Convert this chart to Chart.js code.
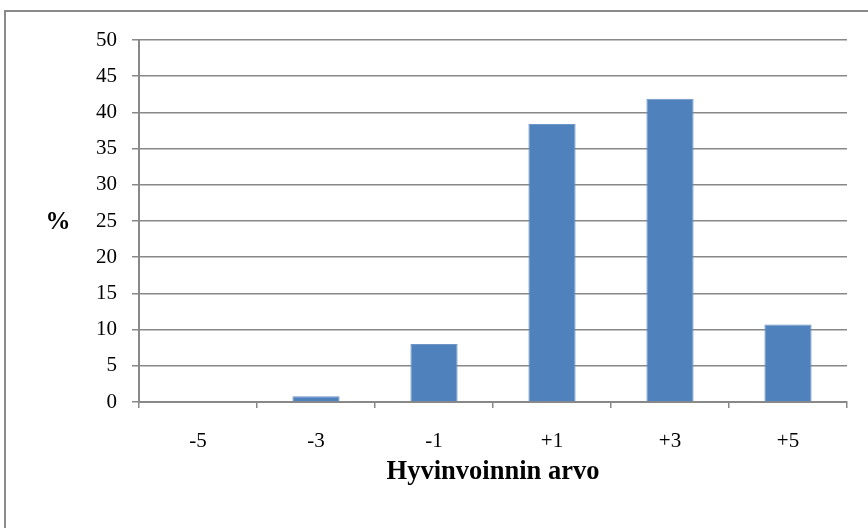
<!DOCTYPE html>
<html>
<head>
<meta charset="utf-8">
<script src="https://cdn.jsdelivr.net/npm/chart.js@4/dist/chart.umd.min.js"></script>
<style>
    html, body { margin: 0; padding: 0; background: #fff; overflow: hidden; }
    #wrap { position: relative; width: 868px; height: 528px; }
    #frame { position: absolute; left: 4px; top: 10px; width: 900px; height: 600px; border: 2px solid #8a8a8a; box-sizing: border-box; }
    canvas { position: absolute; left: 0; top: 0; }
</style>
</head>
<body>
<div id="wrap">
    <div id="frame"></div>
    <canvas id="arvoChart" width="868" height="528"></canvas>
</div>
<script>
const categories = ['-5', '-3', '-1', '+1', '+3', '+5'];
const percentages = [0, 0.8, 8.0, 38.4, 41.9, 10.7];
const yTicks = [0, 5, 10, 15, 20, 25, 30, 35, 40, 45, 50];

const xTitle = 'Hyvinvoinnin arvo';
const yTitle = '%';

const serif = '"Liberation Serif", "Times New Roman", serif';
const gridColor = '#888888';

// horizontal "%" label left of the value axis
const yTitlePlugin = {
    id: 'yTitle',
    afterDraw(chart) {
        const ctx = chart.ctx;
        ctx.save();
        ctx.font = 'bold 25px ' + serif;
        ctx.fillStyle = '#000';
        ctx.textAlign = 'center';
        ctx.textBaseline = 'middle';
        ctx.fillText(yTitle, 58, 223);
        ctx.restore();
    }
};

const ctx = document.getElementById('arvoChart').getContext('2d');

new Chart(ctx, {
    type: 'bar',
    data: {
        labels: categories,
        datasets: [{
            data: percentages,
            backgroundColor: '#4F81BD',
            borderColor: '#6f96c8',
            borderWidth: 1,
            categoryPercentage: 1,
            barPercentage: 0.4
        }]
    },
    options: {
        responsive: false,
        animation: false,
        layout: {
            padding: { left: 0, top: 40, right: 21, bottom: 0 }
        },
        plugins: {
            legend: { display: false },
            tooltip: { enabled: false }
        },
        scales: {
            x: {
                grid: {
                    offset: true,
                    drawOnChartArea: false,
                    drawTicks: true,
                    tickLength: 6,
                    color: gridColor,
                    lineWidth: 1.5
                },
                border: { color: gridColor, width: 2 },
                ticks: {
                    color: '#000',
                    font: { family: serif, size: 21 },
                    padding: 21,
                    maxRotation: 0
                },
                title: {
                    display: true,
                    text: xTitle,
                    color: '#000',
                    font: { family: serif, size: 26.5, weight: 'bold' },
                    padding: { top: 2, bottom: 40 }
                },
                afterFit(scale) { scale.height = 126; }
            },
            y: {
                min: 0,
                max: 50,
                afterBuildTicks(scale) {
                    scale.ticks = yTicks.map(v => ({ value: v }));
                },
                grid: {
                    color: gridColor,
                    lineWidth: 1.5,
                    drawTicks: true,
                    tickLength: 7
                },
                border: { color: gridColor, width: 2 },
                ticks: {
                    color: '#000',
                    font: { family: serif, size: 21 },
                    padding: 15
                },
                afterFit(scale) { scale.width = 139; }
            }
        }
    },
    plugins: [yTitlePlugin]
});
</script>
</body>
</html>
